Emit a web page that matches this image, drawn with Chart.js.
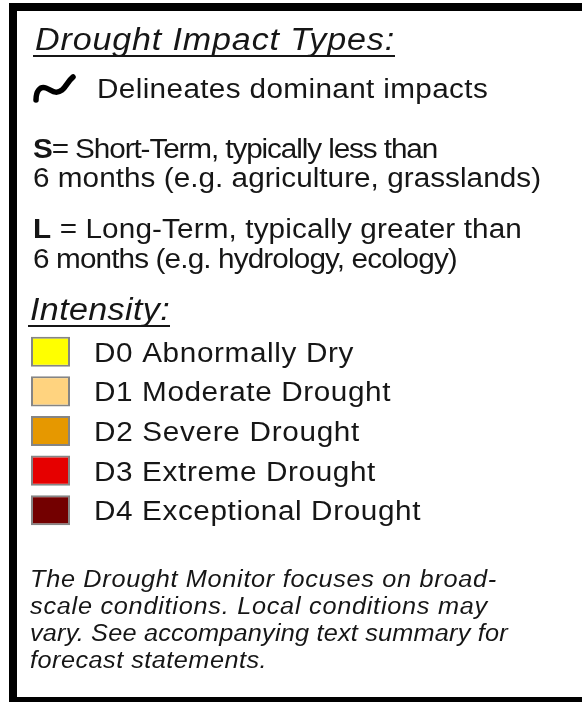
<!DOCTYPE html>
<html>
<head>
<meta charset="utf-8">
<script src="https://cdn.jsdelivr.net/npm/chart.js@4.4.1/dist/chart.umd.min.js"></script>
<style>
  html, body { margin: 0; padding: 0; background: #fff; }
  #legendChart { display: block; }
</style>
</head>
<body>
<canvas id="legendChart" width="582" height="702"></canvas>
<script>
// Intensity categories (drawn as bars on a category axis)
const categories = ['D0', 'D1', 'D2', 'D3', 'D4'];
const categoryNames = ['Abnormally Dry', 'Moderate Drought', 'Severe Drought', 'Extreme Drought', 'Exceptional Drought'];
const swatchColors = ['#ffff00', '#ffd37f', '#e69800', '#e60000', '#730000'];
const swatchValues = [1, 1, 1, 1, 1];

// Header texts
const impactTitle = 'Drought Impact Types:';
const impactLine = 'Delineates dominant impacts';
const shortTermLines = ['= Short-Term, typically less than', '6 months (e.g. agriculture, grasslands)'];
const longTermLines = [' = Long-Term, typically greater than', '6 months (e.g. hydrology, ecology)'];
const intensityTitle = 'Intensity:';
const noteLines = [
    'The Drought Monitor focuses on broad-',
    'scale conditions. Local conditions may',
    'vary. See accompanying text summary for',
    'forecast statements.'
];

const FAMILY = '"Liberation Sans", Arial, sans-serif';
const GLYPH_SX = 1.10;   // horizontal widening of glyphs
const INK = '#161616';

// draws a run of text parts to a given width; what the widened glyphs
// don't cover goes into letter spacing
function drawRun(ctx, parts, x, y, width) {
    ctx.save();
    ctx.letterSpacing = '0px';
    let natural = 0, n = 0;
    parts.forEach(p => {
        ctx.font = p.font;
        p.w = ctx.measureText(p.text).width;
        natural += p.w;
        n += p.text.length;
    });
    const ls = (width / GLYPH_SX - natural) / n;
    ctx.translate(x, y);
    ctx.scale(GLYPH_SX, 1);
    ctx.fillStyle = INK;
    ctx.textBaseline = 'alphabetic';
    ctx.letterSpacing = ls.toFixed(2) + 'px';
    let cx = 0;
    parts.forEach(p => {
        ctx.font = p.font;
        ctx.fillText(p.text, cx, 0);
        cx += p.w + p.text.length * ls;
    });
    ctx.restore();
    return width;
}

const legendPlugin = {
    id: 'legendText',
    beforeDraw(chart) {
        const ctx = chart.ctx;
        ctx.save();
        ctx.fillStyle = '#fff';
        ctx.fillRect(0, 0, chart.width, chart.height);
        // black frame (left, top, bottom)
        ctx.fillStyle = '#000';
        ctx.fillRect(9, 3, 8, 699);
        ctx.fillRect(9, 3, chart.width - 9, 8);
        ctx.fillRect(9, 697, chart.width - 9, 5);
        ctx.restore();
    },
    afterDraw(chart) {
        const ctx = chart.ctx;
        const body = '27px ' + FAMILY;
        const bold = 'bold 27px ' + FAMILY;
        const note = 'italic 23px ' + FAMILY;

        // title
        let w = drawRun(ctx, [{ text: impactTitle, font: 'italic 31px ' + FAMILY }], 35, 50, 360);
        ctx.fillStyle = INK;
        ctx.fillRect(33, 55, w + 2, 2);

        // squiggle symbol
        ctx.save();
        ctx.strokeStyle = '#000';
        ctx.lineWidth = 5.5;
        ctx.lineCap = 'round';
        ctx.lineJoin = 'round';
        ctx.beginPath();
        ctx.moveTo(36, 100);
        ctx.bezierCurveTo(36, 91, 40, 86, 46, 88);
        ctx.bezierCurveTo(52, 90, 55, 95, 62, 90);
        ctx.bezierCurveTo(66, 87, 68, 81, 73, 77);
        ctx.stroke();
        ctx.restore();
        drawRun(ctx, [{ text: impactLine, font: body }], 97, 98, 391);

        drawRun(ctx, [{ text: 'S', font: bold }, { text: shortTermLines[0], font: body }], 33, 158, 404);
        drawRun(ctx, [{ text: shortTermLines[1], font: body }], 33, 187, 508);
        drawRun(ctx, [{ text: 'L', font: bold }, { text: longTermLines[0], font: body }], 33, 238, 489);
        drawRun(ctx, [{ text: longTermLines[1], font: body }], 33, 268, 424);

        w = drawRun(ctx, [{ text: intensityTitle, font: 'italic 31px ' + FAMILY }], 30, 320, 140);
        ctx.fillStyle = INK;
        ctx.fillRect(28, 325, w + 2, 2);

        // category labels next to the bars
        const yScale = chart.scales.y;
        const labelWidths = [260, 297, 266, 282, 327];
        categories.forEach((c, i) => {
            const yc = yScale.getPixelForValue(i);
            drawRun(ctx, [{ text: c + ' ' + categoryNames[i], font: body }], 94, yc + 10, labelWidths[i]);
        });

        const noteWidths = [467, 458, 478, 237];
        noteLines.forEach((t, i) => {
            drawRun(ctx, [{ text: t, font: note }], 30, 587 + i * 27, noteWidths[i]);
        });
    }
};

new Chart(document.getElementById('legendChart'), {
    type: 'bar',
    data: {
        labels: categories,
        datasets: [{
            data: swatchValues,
            backgroundColor: swatchColors,
            borderColor: '#858585',
            borderWidth: 2,
            borderSkipped: false,
            barPercentage: 1,
            categoryPercentage: 0.76
        }]
    },
    options: {
        indexAxis: 'y',
        responsive: false,
        animation: false,
        events: [],
        layout: { padding: { left: 31, right: 512, top: 332, bottom: 172 } },
        scales: {
            x: { display: false, min: 0, max: 1 },
            y: { display: false }
        },
        plugins: {
            legend: { display: false },
            tooltip: { enabled: false }
        }
    },
    plugins: [legendPlugin]
});
</script>
</body>
</html>
